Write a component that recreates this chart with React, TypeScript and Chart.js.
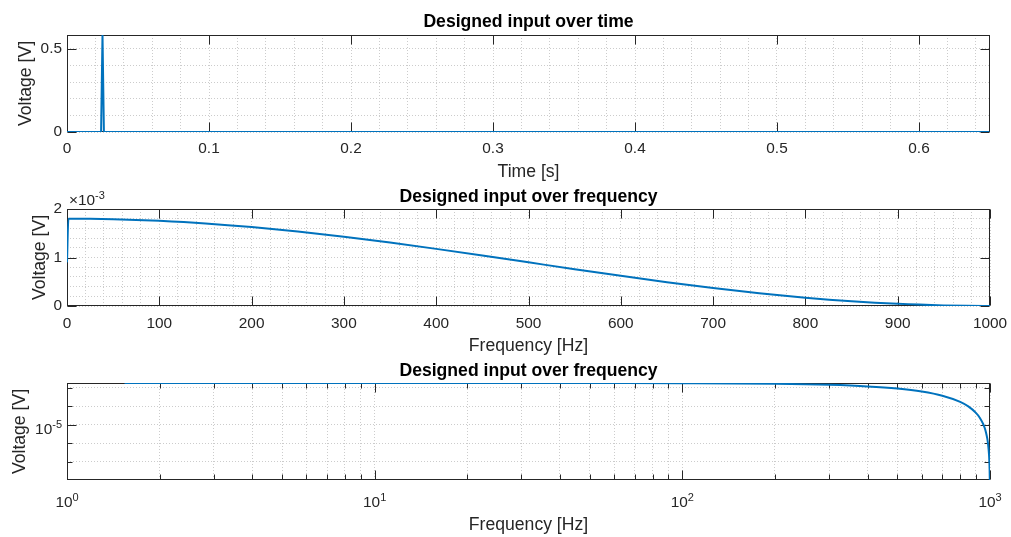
import { useEffect, useRef } from "react";
import { Chart, registerables } from "chart.js";

Chart.register(...registerables);

const FONT = '"Liberation Sans", Arial, Helvetica, sans-serif';
const AXIS_COLOR = "#262626";
const LINE_COLOR = "#0072BD";
const GRID_COLOR = "#cccccc";
const TICK_SIZE = 15.4;
const EXP_SIZE = 11;

// ---------- Data ----------
const timeS = [0, 0.024, 0.025, 0.026, 0.6495];
const timeVoltage = [0, 0, 0.584, 0, 0];

const freqHz = [0, 1.538, 25, 50, 75, 100, 150, 200, 250, 300, 350, 400, 450, 500, 550, 600, 650, 700, 750, 800, 850, 900, 950, 975, 1000];
const freqVoltage = [
  0.9e-3, 1.8e-3, 1.797e-3, 1.789e-3, 1.775e-3, 1.756e-3, 1.702e-3, 1.628e-3, 1.536e-3, 1.429e-3,
  1.309e-3, 1.178e-3, 1.041e-3, 0.9e-3, 0.759e-3, 0.622e-3, 0.491e-3, 0.371e-3, 0.264e-3, 0.172e-3,
  0.098e-3, 0.044e-3, 0.011e-3, 0.0028e-3, 0,
];

const logFreqHz = [1.538, 3.077, 6.154, 10, 20, 50, 100, 200, 300, 400, 500, 600, 700, 800, 850, 900, 925, 950, 960, 970, 980, 985, 990, 993, 995, 997, 998.46];
const logVoltage = [
  1.8e-3, 1.8e-3, 1.7998e-3, 1.7996e-3, 1.798e-3, 1.789e-3, 1.756e-3, 1.628e-3, 1.429e-3, 1.178e-3,
  0.9e-3, 0.622e-3, 0.371e-3, 0.172e-3, 9.8e-5, 4.4e-5, 2.49e-5, 1.11e-5, 7.1e-6, 4.0e-6,
  1.78e-6, 1.0e-6, 4.4e-7, 2.2e-7, 1.1e-7, 4.0e-8, 1.05e-8,
];

// ---------- Ticks ----------
const timeTicks = [0, 0.1, 0.2, 0.3, 0.4, 0.5, 0.6];
const timeTickLabels = ["0", "0.1", "0.2", "0.3", "0.4", "0.5", "0.6"];
const voltTicks = [0, 0.5];
const voltTickLabels = ["0", "0.5"];
const freqTicks = [0, 100, 200, 300, 400, 500, 600, 700, 800, 900, 1000];
const freqTickLabels = ["0", "100", "200", "300", "400", "500", "600", "700", "800", "900", "1000"];
const mvTicks = [0, 0.001, 0.002];
const mvTickLabels = ["0", "1", "2"];
const logFreqTicks = [1, 10, 100, 1000];
const logFreqTickExponents = ["0", "1", "2", "3"];
const logVoltTicks = [1e-5];
const logVoltTickExponents = ["-5"];
const logVoltMinorTicks = [1e-3, 1e-4, 1e-6, 1e-7];
const freqScaleExponent = "-3";

type Tk = { value: number; major: boolean; lbl: string; exp?: string };

function stepMinors(min: number, max: number, step: number, majors: number[]): number[] {
  const out: number[] = [];
  const n = Math.round((max - min) / step);
  for (let i = 0; i <= n; i++) {
    const v = +(min + i * step).toPrecision(10);
    if (v > max + 1e-12) break;
    if (!majors.some((m) => Math.abs(m - v) < step * 1e-3)) out.push(v);
  }
  return out;
}

function logMinors(minDec: number, maxDec: number): number[] {
  const out: number[] = [];
  for (let d = minDec; d < maxDec; d++) {
    for (let k = 2; k <= 9; k++) out.push(k * Math.pow(10, d));
  }
  return out;
}

function tickList(majors: number[], labels: string[], minors: number[]): Tk[] {
  const out: Tk[] = majors.map((v, i) => ({ value: v, major: true, lbl: labels[i] }));
  for (const m of minors) out.push({ value: m, major: false, lbl: "" });
  return out.sort((a, b) => a.value - b.value);
}

function powTickList(majors: number[], exps: string[], minors: number[]): Tk[] {
  const out: Tk[] = majors.map((v, i) => ({ value: v, major: true, lbl: "", exp: exps[i] }));
  for (const m of minors) out.push({ value: m, major: false, lbl: "" });
  return out.sort((a, b) => a.value - b.value);
}

function axis(o: {
  type: string;
  position: string;
  min: number;
  max: number;
  ticks: Tk[];
  title: string;
  titlePad: number;
  tickPad: number;
  size: number;
}) {
  const horizontal = o.position === "bottom";
  return {
    type: o.type,
    position: o.position,
    min: o.min,
    max: o.max,
    bounds: "data",
    afterBuildTicks: (s: any) => {
      s.ticks = o.ticks.map((t) => ({ ...t }));
    },
    afterFit: (s: any) => {
      if (horizontal) s.height = o.size;
      else s.width = o.size;
      s.paddingLeft = 0;
      s.paddingRight = 0;
      s.paddingTop = 0;
      s.paddingBottom = 0;
    },
    grid: { color: GRID_COLOR, lineWidth: 1, drawTicks: false },
    border: { display: false, dash: [1, 2] },
    ticks: {
      autoSkip: false,
      maxRotation: 0,
      minRotation: 0,
      padding: o.tickPad,
      color: AXIS_COLOR,
      font: { family: FONT, size: TICK_SIZE },
      callback: (_v: any, i: number, arr: any[]) => (arr[i] && arr[i].lbl) || "",
    },
    title: {
      display: true,
      text: o.title,
      color: AXIS_COLOR,
      font: { family: FONT, size: 17.6 },
      padding: horizontal ? { top: 0, bottom: o.titlePad } : { top: o.titlePad, bottom: 0 },
    },
  };
}

function drawPow(ctx: CanvasRenderingContext2D, base: string, exp: string, x: number, baseline: number, align: string) {
  ctx.font = `${TICK_SIZE}px ${FONT}`;
  const wb = ctx.measureText(base).width;
  ctx.font = `${EXP_SIZE}px ${FONT}`;
  const we = ctx.measureText(exp).width;
  const total = wb + we;
  const x0 = align === "center" ? x - total / 2 : align === "right" ? x - total : x;
  ctx.textAlign = "left";
  ctx.textBaseline = "alphabetic";
  ctx.font = `${TICK_SIZE}px ${FONT}`;
  ctx.fillText(base, x0, baseline);
  ctx.font = `${EXP_SIZE}px ${FONT}`;
  ctx.fillText(exp, x0 + wb, baseline - 6);
}

const matlabPlugin = {
  id: "matlab",
  beforeDatasetsDraw(chart: any, _args: any, opts: any) {
    const { ctx, chartArea: a } = chart;
    const xs = chart.scales.x;
    const ys = chart.scales.y;
    const L = Math.round(a.left) + 0.5;
    const R = Math.round(a.right) - 0.5;
    const T = Math.round(a.top) + 0.5;
    const B = Math.round(a.bottom) - 0.5;
    ctx.save();
    ctx.strokeStyle = AXIS_COLOR;
    ctx.lineWidth = 1;
    ctx.beginPath();
    for (const t of xs.ticks) {
      const len = t.major ? 9 : opts.xMinor ? 5 : 0;
      if (!len) continue;
      const px = Math.round(xs.getPixelForValue(t.value)) + 0.5;
      ctx.moveTo(px, B);
      ctx.lineTo(px, B - len);
      ctx.moveTo(px, T);
      ctx.lineTo(px, T + len);
    }
    for (const t of ys.ticks) {
      const len = t.major ? 9 : opts.yMinor ? 5 : 0;
      if (!len) continue;
      const py = Math.round(ys.getPixelForValue(t.value)) + 0.5;
      ctx.moveTo(L, py);
      ctx.lineTo(L + len, py);
      ctx.moveTo(R, py);
      ctx.lineTo(R - len, py);
    }
    ctx.stroke();
    ctx.strokeRect(L, T, R - L, B - T);
    ctx.restore();
  },
  afterDraw(chart: any, _args: any, opts: any) {
    const { ctx, chartArea: a } = chart;
    const xs = chart.scales.x;
    const ys = chart.scales.y;
    ctx.save();
    ctx.fillStyle = "#000000";
    ctx.font = `bold 17.6px ${FONT}`;
    ctx.textAlign = "center";
    ctx.textBaseline = "alphabetic";
    ctx.fillText(opts.title, (a.left + a.right) / 2, opts.titleBaseline);
    ctx.fillStyle = AXIS_COLOR;
    if (opts.exponent) {
      drawPow(ctx, "\u00d710", opts.exponent, a.left + 2, opts.exponentBaseline, "left");
    }
    for (const t of xs.ticks) {
      if (t.exp === undefined) continue;
      drawPow(ctx, "10", t.exp, xs.getPixelForValue(t.value), a.bottom + 27, "center");
    }
    for (const t of ys.ticks) {
      if (t.exp === undefined) continue;
      drawPow(ctx, "10", t.exp, a.left - 5, ys.getPixelForValue(t.value) + 9, "right");
    }
    ctx.restore();
  },
};

function baseOptions(padTop: number, pluginOpts: any, scales: any) {
  return {
    animation: false,
    responsive: false,
    devicePixelRatio: 1,
    events: [],
    layout: { padding: { top: padTop, right: 21, left: 0, bottom: 0 } },
    plugins: { legend: { display: false }, tooltip: { enabled: false }, matlab: pluginOpts },
    scales,
  };
}

function lineDataset(xs: number[], ys: number[], smooth: boolean) {
  return {
    data: xs.map((x, i) => ({ x, y: ys[i] })),
    borderColor: LINE_COLOR,
    borderWidth: 2,
    pointRadius: 0,
    fill: false,
    tension: 0,
    cubicInterpolationMode: smooth ? "monotone" : "default",
  };
}

function buildTime(): any {
  return {
    type: "line",
    data: { datasets: [lineDataset(timeS, timeVoltage, false)] },
    options: baseOptions(
      35,
      { title: "Designed input over time", titleBaseline: 27 },
      {
        x: axis({
          type: "linear", position: "bottom", min: 0, max: 0.65,
          ticks: tickList(timeTicks, timeTickLabels, stepMinors(0, 0.65, 0.02, timeTicks)),
          title: "Time [s]", titlePad: 1.9, tickPad: 8, size: 53,
        }),
        y: axis({
          type: "linear", position: "left", min: 0, max: 0.584,
          ticks: tickList(voltTicks, voltTickLabels, stepMinors(0, 0.584, 0.1, voltTicks)),
          title: "Voltage [V]", titlePad: 15.7, tickPad: 5, size: 67,
        }),
      }
    ),
    plugins: [matlabPlugin],
  };
}

function buildFreq(): any {
  return {
    type: "line",
    data: { datasets: [lineDataset(freqHz, freqVoltage, true)] },
    options: baseOptions(
      24,
      { title: "Designed input over frequency", titleBaseline: 17, exponent: freqScaleExponent, exponentBaseline: 20 },
      {
        x: axis({
          type: "linear", position: "bottom", min: 0, max: 1000,
          ticks: tickList(freqTicks, freqTickLabels, stepMinors(0, 1000, 20, freqTicks)),
          title: "Frequency [Hz]", titlePad: 2.8, tickPad: 9, size: 54,
        }),
        y: axis({
          type: "linear", position: "left", min: 0, max: 0.002,
          ticks: tickList(mvTicks, mvTickLabels, stepMinors(0, 0.002, 0.0002, mvTicks)),
          title: "Voltage [V]", titlePad: 29.9, tickPad: 5, size: 67,
        }),
      }
    ),
    plugins: [matlabPlugin],
  };
}

function buildLog(): any {
  return {
    type: "line",
    data: { datasets: [lineDataset(logFreqHz, logVoltage, true)] },
    options: baseOptions(
      23,
      { title: "Designed input over frequency", titleBaseline: 15.5, xMinor: true, yMinor: true },
      {
        x: axis({
          type: "logarithmic", position: "bottom", min: 1, max: 1000,
          ticks: powTickList(logFreqTicks, logFreqTickExponents, logMinors(0, 3)),
          title: "Frequency [Hz]", titlePad: 1.4, tickPad: 13.5, size: 57,
        }),
        y: axis({
          type: "logarithmic", position: "left", min: 1.05e-8, max: 1.8e-3,
          ticks: powTickList(logVoltTicks, logVoltTickExponents, logVoltMinorTicks),
          title: "Voltage [V]", titlePad: 9.6, tickPad: 5, size: 67,
        }),
      }
    ),
    plugins: [matlabPlugin],
  };
}

function Subplot({ top, height, build }: { top: number; height: number; build: () => any }) {
  const ref = useRef<HTMLCanvasElement>(null);
  useEffect(() => {
    const chart = new Chart(ref.current as HTMLCanvasElement, build());
    return () => chart.destroy();
  }, []);
  return (
    <canvas
      ref={ref}
      width={1011}
      height={height}
      style={{ position: "absolute", left: 0, top, width: 1011, height, display: "block" }}
    />
  );
}

export default function App() {
  return (
    <div style={{ position: "absolute", left: 0, top: 0, width: 1011, height: 537, background: "#ffffff", overflow: "hidden" }}>
      <Subplot top={0} height={185} build={buildTime} />
      <Subplot top={185} height={175} build={buildFreq} />
      <Subplot top={360} height={177} build={buildLog} />
    </div>
  );
}
